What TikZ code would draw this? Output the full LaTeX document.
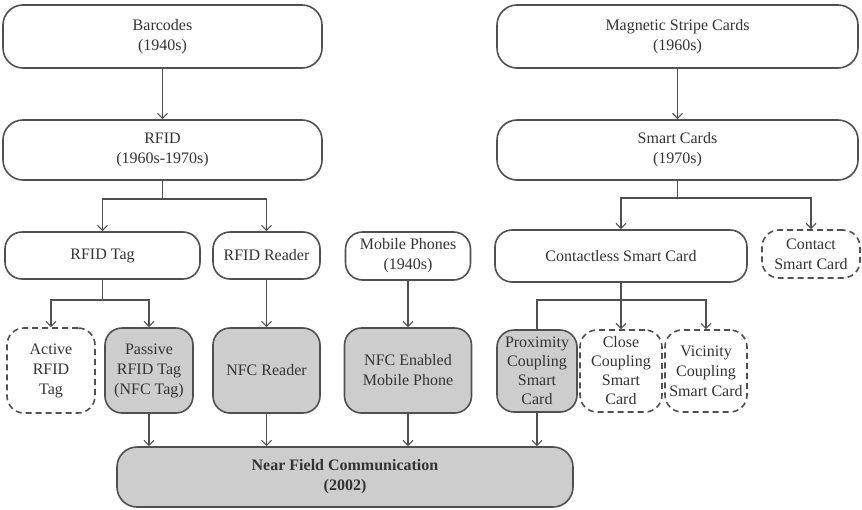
\documentclass[tikz,border=0pt]{standalone}
\usepackage{fontspec}
\setmainfont{Liberation Serif}
\usepackage{xcolor}
\usepackage{tikz}
\usetikzlibrary{positioning,calc,arrows.meta}

\definecolor{lineg}{HTML}{505050}
\definecolor{fillg}{HTML}{CDCDCD}
\definecolor{textg}{HTML}{333333}

\tikzset{
	box/.style={draw=lineg, line width=1.6pt, rounded corners=17pt, align=center, inner sep=1pt, text=textg, font=\fontsize{16}{20}\selectfont},
	grbox/.style={box, fill=fillg},
	dbox/.style={box, dash pattern=on 6pt off 4pt},
	arr/.style={draw=lineg, line width=1.2pt, -{Straight Barb[length=5pt,width=10pt]}},
	ln/.style={draw=lineg, line width=1.2pt}
}

\begin{document}
\begin{tikzpicture}[x=1pt,y=-1pt]
			\useasboundingbox[fill=white] (0,0) rectangle (862,509);
			
			% hàng trên
			\node[box, minimum width=319pt, minimum height=63pt, rounded corners=20pt] (bar) at (162.5,36.5) {Barcodes\\(1940s)};
			\node[box, minimum width=361pt, minimum height=63pt, rounded corners=20pt] (mag) at (677.5,36.5) {Magnetic Stripe Cards\\(1960s)};
			\node[box, minimum width=319pt, minimum height=60pt, rounded corners=20pt] (rfid) at (162.5,150) {RFID\\(1960s-1970s)};
			\node[box, minimum width=361pt, minimum height=60pt, rounded corners=20pt] (smart) at (677.5,150) {Smart Cards\\(1970s)};
			
			% hàng giữa
			\node[box, minimum width=195pt, minimum height=47pt] (tag) at (102.5,255.5) {RFID Tag};
			\node[box, minimum width=107pt, minimum height=47pt] (reader) at (266.5,255.5) {RFID Reader};
			\node[box, minimum width=125pt, minimum height=48pt] (mobile) at (408,256) {Mobile Phones\\(1940s)};
			\node[box, minimum width=252pt, minimum height=52pt] (cless) at (621,256) {Contactless Smart Card};
			\node[dbox, minimum width=98pt, minimum height=48pt] (contact) at (811,254) {Contact\\Smart Card};
			
			% hàng dưới
			\node[dbox, minimum width=88pt, minimum height=85pt] (active) at (51,370.5) {Active\\RFID\\Tag};
			\node[grbox, minimum width=88pt, minimum height=85pt] (passive) at (149,370.5) {Passive\\RFID Tag\\(NFC Tag)};
			\node[grbox, minimum width=107pt, minimum height=85pt] (nfcr) at (266.5,370.5) {NFC Reader};
			\node[grbox, minimum width=127pt, minimum height=85pt] (nfcm) at (408,370.5) {NFC Enabled\\Mobile Phone};
			\node[grbox, minimum width=80pt, minimum height=82pt, font=\fontsize{16}{19}\selectfont] (prox) at (537,371) {Proximity\\Coupling\\Smart\\Card};
			\node[dbox, minimum width=82pt, minimum height=82pt, font=\fontsize{16}{19}\selectfont] (close) at (621,371) {Close\\Coupling\\Smart\\Card};
			\node[dbox, minimum width=82pt, minimum height=82pt] (vic) at (706,371) {Vicinity\\Coupling\\Smart Card};
			
			% NFC
			\node[grbox, minimum width=456pt, minimum height=60pt, rounded corners=20pt] (nfc) at (345,477) {\textbf{Near Field Communication}\\\textbf{(2002)}};
			
			% điểm rẽ nhánh
			\coordinate (jrfid) at (162.5,199);
			\coordinate (jsmart) at (677.5,198);
			\coordinate (jtag) at (102.5,300);
			\coordinate (jcless) at (621,300);
			
			% mũi tên
			\draw[arr] (bar) -- (rfid);
			\draw[arr] (mag) -- (smart);
			\draw[ln] (rfid) -- (jrfid);
			\draw[arr] (jrfid) -| (tag.north);
			\draw[arr] (jrfid) -| (reader.north);
			\draw[ln] (smart) -- (jsmart);
			\draw[arr] (jsmart) -| (cless.north);
			\draw[arr] (jsmart) -| (contact.north);
			\draw[ln] (tag) -- (jtag);
			\draw[arr] (jtag) -| (active.north);
			\draw[arr] (jtag) -| (passive.north);
			\draw[arr] (reader) -- (nfcr);
			\draw[arr] (mobile) -- (nfcm);
			\draw[ln] (cless) -- (jcless);
			\draw[ln] (jcless) -| (prox.north);
			\draw[arr] (jcless) -- (close);
			\draw[arr] (jcless) -| (vic.north);
			\foreach \s in {passive,nfcr,nfcm,prox} {
				\draw[arr] (\s) -- (\s |- nfc.north);
			}
		\end{tikzpicture}
\end{document}
